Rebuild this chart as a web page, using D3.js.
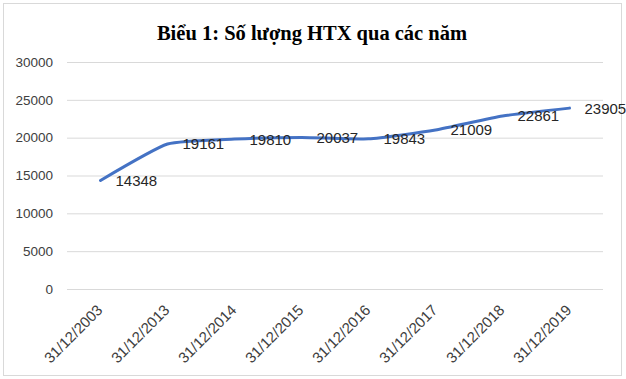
<!DOCTYPE html>
<html>
<head>
<meta charset="utf-8">
<script src="https://cdn.jsdelivr.net/npm/d3@7"></script>
<style>
  html, body { margin: 0; padding: 0; background: #fff; }
  svg { display: block; }
</style>
</head>
<body>
<div id="chart"></div>
<script>
const title = 'Biểu 1: Số lượng HTX qua các năm';
const dates = ['31/12/2003', '31/12/2013', '31/12/2014', '31/12/2015',
               '31/12/2016', '31/12/2017', '31/12/2018', '31/12/2019'];
const counts = [14348, 19161, 19810, 20037, 19843, 21009, 22861, 23905];
const yTicks = [0, 5000, 10000, 15000, 20000, 25000, 30000];

const width = 626, height = 379;
const margin = {top: 62, right: 23, bottom: 90, left: 67};

const svg = d3.select('#chart').append('svg')
    .attr('width', width)
    .attr('height', height);

// chart border
svg.append('rect')
    .attr('x', 3.5).attr('y', 3.5)
    .attr('width', 618).attr('height', 372)
    .attr('fill', '#fff')
    .attr('stroke', '#d9d9d9')
    .attr('stroke-width', 1);

svg.append('text')
    .attr('x', 312)
    .attr('y', 40)
    .attr('text-anchor', 'middle')
    .attr('font-family', '"Liberation Serif", "Times New Roman", serif')
    .attr('font-weight', 'bold')
    .attr('font-size', 20.5)
    .attr('fill', '#000')
    .text(title);

const x = d3.scaleBand()
    .domain(dates)
    .range([margin.left, width - margin.right]);

const y = d3.scaleLinear()
    .domain([0, 30000])
    .range([height - margin.bottom, margin.top]);

// gridlines + y labels
const yAxis = svg.append('g')
    .attr('transform', `translate(${margin.left},0)`)
    .call(d3.axisLeft(y).tickValues(yTicks).tickFormat(d3.format('d'))
        .tickSize(-(width - margin.left - margin.right)).tickPadding(14))
    .call(g => g.select('.domain').remove());

yAxis.selectAll('.tick line')
    .attr('stroke', '#d9d9d9')
    .attr('stroke-width', 1);

yAxis.selectAll('.tick text')
    .attr('font-family', '"Liberation Sans", Arial, sans-serif')
    .attr('font-size', 13.5)
    .attr('fill', '#404040');

// x labels, rotated
const xAxis = svg.append('g')
    .attr('transform', `translate(0,${height - margin.bottom})`)
    .call(d3.axisBottom(x).tickSize(0).tickPadding(0))
    .call(g => g.select('.domain').remove());

xAxis.selectAll('.tick text')
    .attr('font-family', '"Liberation Sans", Arial, sans-serif')
    .attr('font-size', 15)
    .attr('fill', '#404040')
    .attr('text-anchor', 'end')
    .attr('dy', 0)
    .attr('transform', 'translate(3,22) rotate(-45)');

const line = d3.line()
    .x((d, i) => x(dates[i]) + x.bandwidth() / 2)
    .y(d => y(d))
    .curve(d3.curveCardinal.tension(0.5));

svg.append('path')
    .datum(counts)
    .attr('fill', 'none')
    .attr('stroke', '#4472c4')
    .attr('stroke-width', 3)
    .attr('stroke-linecap', 'round')
    .attr('d', line);

svg.append('g')
    .selectAll('text')
    .data(counts)
    .join('text')
    .attr('x', (d, i) => x(dates[i]) + x.bandwidth() / 2 + 15)
    .attr('y', d => y(d))
    .attr('dy', '0.36em')
    .attr('font-family', '"Liberation Sans", Arial, sans-serif')
    .attr('font-size', 15)
    .attr('fill', '#262626')
    .text(d => d);
</script>
</body>
</html>
